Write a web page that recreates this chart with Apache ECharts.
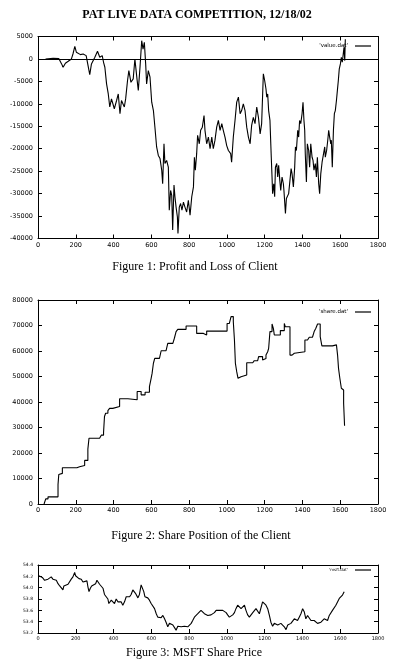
<!DOCTYPE html>
<html>
<head>
<meta charset="utf-8">
<script src="https://cdn.jsdelivr.net/npm/echarts@6/dist/echarts.min.js"></script>
<style>
  html, body { margin: 0; padding: 0; background: #fff; }
  #main { width: 397px; height: 672px; }
</style>
</head>
<body>
<div id="main"></div>
<script>
// x ticks shared by the three figures
var xTicks = [0, 200, 400, 600, 800, 1000, 1200, 1400, 1600, 1800];

// Figure 1: profit and loss, [time, value]
var pnlData = [
  [40,0],[50,150],[80,150],[110,100],[125,-1100],[133,-1850],[145,-960],[160,-520],[177,0],[185,1100],
  [195,2800],[203,1500],[212,1700],[225,960],[239,1100],[255,740],[265,740],[274,-3500],[283,-1100],[301,370],
  [315,1700],[327,370],[340,740],[347,-740],[354,-1850],[363,-5550],[372,-7800],[380,-10700],[389,-8900],[404,-11100],
  [416,-9260],[425,-7800],[434,-12200],[442,-9260],[457,-10700],[464,-8900],[474,-4800],[481,-2600],[492,-5200],[504,-4450],
  [513,0],[524,-4450],[531,-7000],[540,-1850],[549,4070],[556,2200],[563,3700],[570,-1100],[575,-5550],[584,-2600],
  [593,-4070],[602,-9630],[611,-11500],[619,-15200],[628,-19600],[637,-21500],[646,-22200],[655,-24800],[660,-27800],[667,-18900],
  [672,-23300],[681,-22600],[690,-24100],[695,-33700],[702,-29300],[708,-30400],[713,-38100],[720,-28100],[725,-30700],[731,-33000],
  [738,-35200],[741,-38900],[748,-33000],[755,-32200],[762,-33700],[770,-31900],[778,-33000],[787,-34100],[796,-31500],[805,-34800],
  [814,-30700],[823,-28500],[828,-21900],[833,-24800],[840,-21100],[845,-17000],[854,-18900],[861,-15900],[870,-15200],[879,-12600],
  [884,-15900],[893,-18900],[902,-17400],[911,-20000],[920,-17400],[928,-20000],[937,-18100],[946,-15200],[955,-13700],[964,-15900],
  [973,-14400],[981,-15900],[990,-17400],[999,-19300],[1008,-20400],[1020,-21100],[1025,-23000],[1034,-17400],[1043,-13700],[1052,-9630],
  [1061,-8500],[1070,-12200],[1078,-11500],[1087,-10000],[1096,-11500],[1105,-15200],[1114,-17400],[1123,-18900],[1131,-14800],[1140,-13000],
  [1149,-14400],[1158,-10700],[1167,-13000],[1176,-16700],[1184,-14400],[1193,-3300],[1200,-4800],[1207,-6700],[1211,-8500],[1216,-7800],
  [1221,-11500],[1228,-13700],[1235,-21900],[1239,-26300],[1242,-30000],[1248,-27800],[1253,-30700],[1257,-24100],[1264,-23300],[1269,-26300],
  [1274,-23700],[1280,-27000],[1285,-29300],[1292,-26300],[1299,-27800],[1302,-29300],[1310,-34400],[1315,-31100],[1320,-31500],[1327,-30000],
  [1334,-27000],[1340,-24400],[1345,-25600],[1352,-28500],[1359,-24100],[1363,-19600],[1368,-20400],[1375,-15900],[1380,-17400],[1385,-13700],
  [1391,-14400],[1398,-12200],[1403,-9630],[1408,-13700],[1412,-15900],[1415,-21100],[1421,-27400],[1426,-18900],[1433,-20400],[1438,-24100],
  [1444,-18900],[1451,-21900],[1456,-22600],[1461,-24800],[1468,-23300],[1474,-26300],[1479,-21900],[1486,-27800],[1491,-30000],[1497,-25600],
  [1504,-23000],[1511,-23300],[1518,-19600],[1521,-21900],[1528,-20400],[1534,-18100],[1539,-15900],[1544,-17400],[1550,-18900],[1553,-18100],
  [1558,-24100],[1564,-15900],[1569,-12200],[1574,-11500],[1580,-9260],[1585,-7000],[1590,-4800],[1595,-2200],[1601,-1100],[1606,370],
  [1611,-740],[1617,1500],[1620,2600],[1624,-370],[1627,4400]
];

// Figure 2: share position (steps), [time, shares]
var shareData = [
  [32,0],[41,2000],[53,2800],[106,7600],[110,11600],[118,12000],[129,14200],[206,14600],[220,15100],[247,17100],
  [264,21500],[270,25800],[326,26300],[335,27000],[347,28000],[352,34300],[358,35600],[370,36600],[379,37500],[396,38200],
  [432,41300],[476,40900],[525,44100],[546,42800],[567,43800],[590,46000],[599,49300],[604,51200],[611,55200],[618,57100],
  [643,57800],[652,60100],[678,60400],[687,63000],[714,63300],[722,65000],[731,67600],[740,68500],[784,69800],[840,66900],
  [876,66300],[893,67800],[1001,70800],[1013,71500],[1022,73500],[1034,71500],[1040,64300],[1045,55200],[1052,51900],[1059,49300],
  [1066,49900],[1075,50600],[1105,55400],[1137,55800],[1145,56200],[1163,56500],[1168,57800],[1189,56500],[1198,57100],[1207,58400],
  [1216,59700],[1221,61000],[1228,67600],[1239,70600],[1246,68900],[1251,66300],[1283,68000],[1304,70800],[1309,69500],[1334,58400],
  [1345,59100],[1357,59700],[1413,64300],[1427,64600],[1436,65400],[1453,65600],[1462,67600],[1471,68900],[1480,70600],[1494,65600],
  [1503,62000],[1559,62400],[1580,61700],[1586,58400],[1591,53200],[1598,49300],[1606,45400],[1612,44700],[1618,39500],[1623,30700]
];

// Figure 3: MSFT share price, [time, price]
var msftData = [
  [4,54.21],[12,54.18],[23,54.18],[35,54.13],[44,54.13],[53,54.15],[62,54.18],[70,54.19],[79,54.15],[88,54.15],
  [97,54.13],[106,54.07],[115,54.03],[125,54.02],[132,53.96],[137,54.03],[146,54.03],[159,54.06],[167,54.07],[176,54.15],
  [185,54.19],[194,54.27],[199,54.21],[206,54.18],[217,54.16],[229,54.15],[238,54.10],[247,54.13],[259,54.12],[264,54.02],
  [270,53.93],[277,53.99],[284,54.03],[294,54.05],[305,54.07],[312,54.13],[319,54.10],[326,54.06],[335,54.05],[344,53.99],
  [352,53.88],[361,53.84],[370,53.80],[375,53.72],[382,53.75],[388,53.78],[396,53.75],[405,53.72],[414,53.80],[423,53.75],
  [432,53.72],[440,53.75],[449,53.69],[458,53.75],[467,53.84],[476,53.87],[485,53.84],[493,53.88],[502,53.96],[507,53.99],
  [516,53.90],[523,53.93],[529,53.82],[537,53.88],[546,54.05],[555,54.02],[560,53.93],[566,53.84],[573,53.87],[581,53.82],
  [590,53.78],[599,53.72],[608,53.69],[617,53.63],[626,53.54],[634,53.48],[643,53.51],[652,53.47],[661,53.51],[670,53.45],
  [678,53.39],[687,53.31],[696,53.37],[705,53.39],[714,53.34],[722,53.37],[731,53.25],[740,53.32],[749,53.34],[758,53.31],
  [766,53.34],[775,53.32],[784,53.34],[793,53.31],[802,53.34],[811,53.37],[819,53.42],[828,53.48],[837,53.48],[846,53.54],
  [855,53.57],[863,53.60],[872,53.63],[881,53.54],[890,53.52],[899,53.51],[907,53.54],[916,53.52],[925,53.54],[934,53.56],
  [943,53.60],[952,53.58],[960,53.60],[969,53.58],[978,53.60],[987,53.57],[996,53.56],[1004,53.52],[1013,53.48],[1022,53.51],
  [1031,53.52],[1040,53.56],[1048,53.63],[1057,53.69],[1066,53.66],[1075,53.63],[1084,53.60],[1093,53.69],[1101,53.60],[1110,53.52],
  [1119,53.48],[1128,53.51],[1137,53.56],[1145,53.58],[1154,53.63],[1163,53.62],[1172,53.54],[1181,53.52],[1189,53.75],[1198,53.72],
  [1207,53.69],[1216,53.63],[1225,53.51],[1233,53.39],[1242,53.32],[1251,53.37],[1260,53.39],[1269,53.34],[1277,53.31],[1286,53.37],
  [1295,53.34],[1304,53.31],[1313,53.26],[1322,53.34],[1330,53.32],[1339,53.37],[1348,53.39],[1357,53.45],[1366,53.48],[1374,53.42],
  [1383,53.48],[1392,53.54],[1401,53.63],[1410,53.57],[1418,53.45],[1427,53.51],[1436,53.48],[1445,53.42],[1454,53.45],[1462,53.42],
  [1471,53.42],[1480,53.37],[1489,53.34],[1498,53.39],[1507,53.42],[1515,53.45],[1524,53.48],[1533,53.42],[1542,53.51],[1551,53.48],
  [1559,53.60],[1568,53.63],[1577,53.69],[1586,53.72],[1595,53.81],[1603,53.84],[1612,53.87],[1621,53.93]
];

// y ranges of the three figures: min, max, step
var pnlRange = [-40000, 5000, 5000];
var shareRange = [0, 80000, 10000];
var msftRange = [53.2, 54.4, 0.2];

var chart = echarts.init(document.getElementById('main'));

var serif = '"Liberation Serif", "DejaVu Serif", serif';
var sans = '"DejaVu Sans", sans-serif';

// one bottom/top pair of axes per grid (gnuplot style mirrored ticks)
function xPair(grid, size) {
  var base = {
    gridIndex: grid, type: 'value',
    min: xTicks[0], max: xTicks[xTicks.length - 1], interval: 200,
    axisLine: { onZero: false, lineStyle: { color: '#000', width: 1 } },
    axisTick: { inside: true, length: 4, lineStyle: { color: '#000' } },
    splitLine: { show: false }
  };
  var bottom = Object.assign({}, base, {
    position: 'bottom',
    axisLabel: {
      fontSize: size, fontFamily: sans, color: '#000', margin: 3,
      formatter: function (v) { return String(v); }
    }
  });
  var top = Object.assign({}, base, { position: 'top', axisLabel: { show: false } });
  return [bottom, top];
}

function yPair(grid, range, size, digits) {
  var base = {
    gridIndex: grid, type: 'value',
    min: range[0], max: range[1], interval: range[2],
    axisLine: { onZero: false, lineStyle: { color: '#000', width: 1 } },
    axisTick: { inside: true, length: 4, lineStyle: { color: '#000' } },
    splitLine: { show: false }
  };
  var left = Object.assign({}, base, {
    position: 'left',
    axisLabel: {
      fontSize: size, fontFamily: sans, color: '#000', margin: 5,
      formatter: function (v) { return v.toFixed(digits); }
    }
  });
  var right = Object.assign({}, base, { position: 'right', axisLabel: { show: false } });
  return [left, right];
}

function caption(text, x, y, bold) {
  return {
    text: text, left: x, top: y, textAlign: 'center', padding: 0,
    textStyle: { fontFamily: serif, fontSize: 12, fontWeight: bold ? 'bold' : 'normal', color: '#000' }
  };
}

// legend: name on the left, short plain line on the right
function legendAt(name, top, size) {
  return {
    data: [name], right: 26, top: top, align: 'right', padding: 0,
    icon: 'rect', itemWidth: 16, itemHeight: 1.2, itemGap: 0,
    textStyle: { fontSize: size, fontFamily: sans, color: '#000', padding: [0, 2, 0, 0] }
  };
}

var line = { color: '#000', width: 1.1 };

var option = {
  animation: false,
  backgroundColor: '#fff',
  title: [
    caption('PAT LIVE DATA COMPETITION, 12/18/02', 197, 9, true),
    caption('Figure 1: Profit and Loss of Client', 195, 261, false),
    caption('Figure 2: Share Position of the Client', 201, 530, false),
    caption('Figure 3: MSFT Share Price', 194, 647, false)
  ],
  legend: [
    legendAt("'value.dat'", 43, 5.5),
    legendAt("'share.dat'", 309, 5.5),
    legendAt("'msft.dat'", 568, 4)
  ],
  grid: [
    { left: 38, top: 36.5, width: 340, height: 202 },
    { left: 38, top: 300, width: 340, height: 204 },
    { left: 38, top: 565, width: 340, height: 68 }
  ],
  xAxis: [].concat(xPair(0, 6.5), xPair(1, 6.5), xPair(2, 5)),
  yAxis: [].concat(
    yPair(0, pnlRange, 6.5, 0),
    yPair(1, shareRange, 6.5, 0),
    yPair(2, msftRange, 4.5, 1)
  ),
  series: [
    {
      name: "'value.dat'", type: 'line', xAxisIndex: 0, yAxisIndex: 0,
      data: pnlData, symbol: 'none', color: '#000', lineStyle: line,
      markLine: {
        silent: true, symbol: ['none', 'none'], label: { show: false },
        lineStyle: { color: '#000', type: 'solid', width: 1 },
        data: [{ yAxis: 0 }]
      }
    },
    {
      name: "'share.dat'", type: 'line', step: 'end', xAxisIndex: 2, yAxisIndex: 2,
      data: shareData, symbol: 'none', color: '#000', lineStyle: line
    },
    {
      name: "'msft.dat'", type: 'line', xAxisIndex: 4, yAxisIndex: 4,
      data: msftData, symbol: 'none', color: '#000', lineStyle: line
    }
  ]
};

chart.setOption(option);
</script>
</body>
</html>
